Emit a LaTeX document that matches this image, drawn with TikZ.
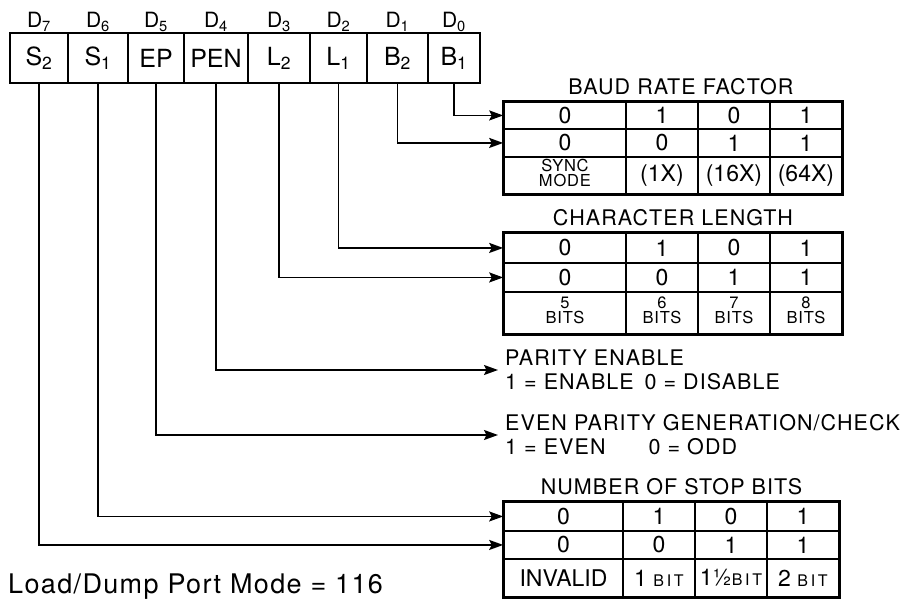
\documentclass[tikz,border=0pt]{standalone}
\usepackage{fontspec}
\setmainfont{TeX Gyre Heros}
\newfontfamily\spaced[LetterSpace=5]{TeX Gyre Heros}
\usetikzlibrary{arrows.meta, positioning, matrix, calc}

\newcommand{\tabsmall}{\spaced\fontsize{16.5}{16}\selectfont}
\newcommand{\twoline}[2]{\tabsmall\begin{tabular}{@{}c@{}}\tabsmall #1\\[-2pt]\tabsmall #2\end{tabular}}
\newcommand{\bitword}{{\fontsize{16}{16}\selectfont B\,I\,T}}

\tikzset{
    bitcell/.style={
        draw,
        line width=2pt,
        minimum width=#1,
        minimum height=50pt,
        inner sep=0pt,
        outer sep=0pt,
        font=\fontsize{25}{25}\selectfont
    },
    bitlabel/.style={
        font=\fontsize{21}{21}\selectfont,
        inner sep=0pt
    },
    title/.style={
        font=\spaced\fontsize{21.5}{21.5}\selectfont,
        inner sep=0pt
    },
    note/.style={
        font=\spaced\fontsize{21.5}{24}\selectfont,
        align=left,
        anchor=west,
        inner sep=0pt,
        inner xsep=7pt
    },
    codetable/.style={
        matrix of nodes,
        anchor=north west,
        inner sep=0pt,
        column sep=-1.5pt,
        row sep=-1.5pt,
        nodes={
            draw,
            line width=1.5pt,
            minimum width=72pt,
            inner sep=0pt,
            anchor=center,
            font=\fontsize{23}{23}\selectfont
        },
        column 1/.style={nodes={minimum width=122pt}}
    },
    frame/.style={
        draw,
        line width=2.4pt
    },
    arrow/.style={
        -{Stealth[length=14pt, width=10pt, inset=2.5pt]},
        line width=1.8pt
    }
}

\begin{document}
\begin{tikzpicture}[x=1pt, y=-1pt]
    \useasboundingbox (0,0) rectangle (900,599);

    % Mode register
    \node[bitcell=58pt] (d7) at (39,58) {S\textsubscript{2}};
    \node[bitcell=60pt, right=0pt of d7] (d6) {S\textsubscript{1}};
    \node[bitcell=56pt, right=0pt of d6] (d5) {EP};
    \node[bitcell=64pt, right=0pt of d5] (d4) {PEN};
    \node[bitcell=62pt, right=0pt of d4] (d3) {L\textsubscript{2}};
    \node[bitcell=57pt, right=0pt of d3] (d2) {L\textsubscript{1}};
    \node[bitcell=61pt, right=0pt of d2] (d1) {B\textsubscript{2}};
    \node[bitcell=52pt, right=0pt of d1] (d0) {B\textsubscript{1}};

    \node[bitlabel, above=5pt of d7.north, anchor=base] (l7) {D\textsubscript{7}};
    \node[bitlabel, above=5pt of d6.north, anchor=base] (l6) {D\textsubscript{6}};
    \node[bitlabel, above=5pt of d5.north, anchor=base] (l5) {D\textsubscript{5}};
    \node[bitlabel, above=5pt of d4.north, anchor=base] (l4) {D\textsubscript{4}};
    \node[bitlabel, above=5pt of d3.north, anchor=base] (l3) {D\textsubscript{3}};
    \node[bitlabel, above=5pt of d2.north, anchor=base] (l2) {D\textsubscript{2}};
    \node[bitlabel, above=5pt of d1.north, anchor=base] (l1) {D\textsubscript{1}};
    \node[bitlabel, above=5pt of d0.north, anchor=base] (l0) {D\textsubscript{0}};

    % Baud rate factor
    \matrix (baud) [codetable,
        row 1/.style={nodes={minimum height=27pt}},
        row 2/.style={nodes={minimum height=28pt}},
        row 3/.style={nodes={minimum height=37pt}}] at (503,101) {
        0 & 1 & 0 & 1 \\
        0 & 0 & 1 & 1 \\
        \twoline{SYNC}{MODE} & (1X) & (16X) & (64X) \\
    };
    \draw[frame] (baud.north west) rectangle (baud.south east);
    \node[title, above=6pt of baud, xshift=8pt] (baudtitle) {BAUD RATE FACTOR};

    % Character length
    \matrix (charlen) [codetable,
        row 1/.style={nodes={minimum height=30pt}},
        row 2/.style={nodes={minimum height=29pt}},
        row 3/.style={nodes={minimum height=42pt}}] at (503,232) {
        0 & 1 & 0 & 1 \\
        0 & 0 & 1 & 1 \\
        \twoline{5}{BITS} & \twoline{6}{BITS} & \twoline{7}{BITS} & \twoline{8}{BITS} \\
    };
    \draw[frame] (charlen.north west) rectangle (charlen.south east);
    \node[title, above=6pt of charlen] (chartitle) {CHARACTER LENGTH};

    % Parity
    \node[note] (pen) at (498,370) {PARITY ENABLE\\1 = ENABLE\enspace 0 = DISABLE};
    \node[note] (ep) at (498,435) {EVEN PARITY GENERATION/CHECK\\1 = EVEN\qquad 0 = ODD};

    % Stop bits
    \matrix (stop) [codetable,
        column 1/.style={nodes={minimum width=119pt}},
        row 1/.style={nodes={minimum height=29pt}},
        row 2/.style={nodes={minimum height=28pt}},
        row 3/.style={nodes={minimum height=38pt}}] at (503,501) {
        0 & 1 & 0 & 1 \\
        0 & 0 & 1 & 1 \\
        INVALID & 1 \bitword & 1\textonehalf\bitword & 2 \bitword \\
    };
    \draw[frame] (stop.north west) rectangle (stop.south east);
    \node[title, above=6pt of stop] (stoptitle) {NUMBER OF STOP BITS};

    % Connectors
    \draw[arrow] (d0.south) |- (baud-1-1.west);
    \draw[arrow] (d1.south) |- (baud-2-1.west);
    \draw[arrow] (d2.south) |- (charlen-1-1.west);
    \draw[arrow] (d3.south) |- (charlen-2-1.west);
    \draw[arrow] (d4.south) |- (pen.west);
    \draw[arrow] (d5.south) |- (ep.west);
    \draw[arrow] (d6.south) |- (stop-1-1.west);
    \draw[arrow] (d7.south) |- (stop-2-1.west);

    \node[anchor=west, inner sep=0pt, font=\spaced\fontsize{27}{27}\selectfont] (mode) at (8,587) {Load/Dump Port Mode = 116};
\end{tikzpicture}
\end{document}
